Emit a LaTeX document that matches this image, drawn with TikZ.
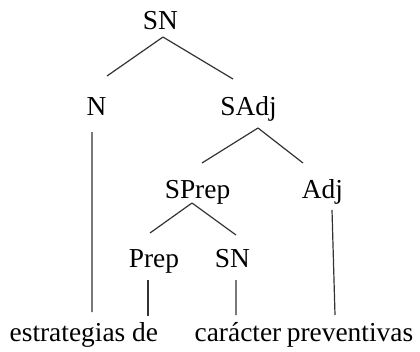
\documentclass[tikz,border=0pt]{standalone}
\usepackage{fontspec}
\setmainfont{Liberation Serif}
\usetikzlibrary{calc}
\tikzset{
  lbl/.style={anchor=base, inner sep=0pt, font=\fontsize{27.5}{33}\selectfont},
  edge/.style={draw=black!80, line width=1.2bp},
}
\begin{document}
\begin{tikzpicture}[x=1bp, y=-1bp]
\useasboundingbox (0,0) rectangle (420,352);
\node[lbl] (SNa)   at (160.5,29) {SN};
\node[lbl] (N)     at (96.5,115) {N};
\node[lbl] (SAdj)  at (248.5,115) {SAdj};
\node[lbl] (SPrep) at (197.5,198) {SPrep};
\node[lbl] (Adj)   at (322.5,198) {Adj};
\node[lbl] (Prep)  at (154,267) {Prep};
\node[lbl] (SNb)   at (232.5,267) {SN};
\node[lbl] (w1)    at (67.5,341) {estrategias};
\node[lbl] (w2)    at (145,341) {de};
\node[lbl] (w3)    at (238,341) {carácter};
\node[lbl] (w4)    at (350,341) {preventivas};
\draw[edge] ($(SNa.base)+(2.5,8)$) -- ($(N.base)+(10.5,-39)$);
\draw[edge] ($(SNa.base)+(2.5,8)$) -- ($(SAdj.base)+(-15.5,-36)$);
\draw[edge] ($(N.base)+(-4.5,17)$) -- ($(w1.base)+(24.5,-29)$);
\draw[edge] ($(SAdj.base)+(9.5,13)$) -- ($(SPrep.base)+(4.5,-35)$);
\draw[edge] ($(SAdj.base)+(9.5,13)$) -- ($(Adj.base)+(-19.5,-35)$);
\draw[edge] ($(SPrep.base)+(-5.5,5)$) -- ($(Prep.base)+(-4,-34)$);
\draw[edge] ($(SPrep.base)+(-5.5,5)$) -- ($(SNb.base)+(3.5,-32)$);
\draw[edge] ($(Prep.base)+(-6,13)$) -- ($(w2.base)+(3,-25)$);
\draw[edge] ($(SNb.base)+(3.5,13)$) -- ($(w3.base)+(-2,-26)$);
\draw[edge] ($(Adj.base)+(9.5,12)$) -- ($(w4.base)+(-15,-26)$);
\end{tikzpicture}
\end{document}
